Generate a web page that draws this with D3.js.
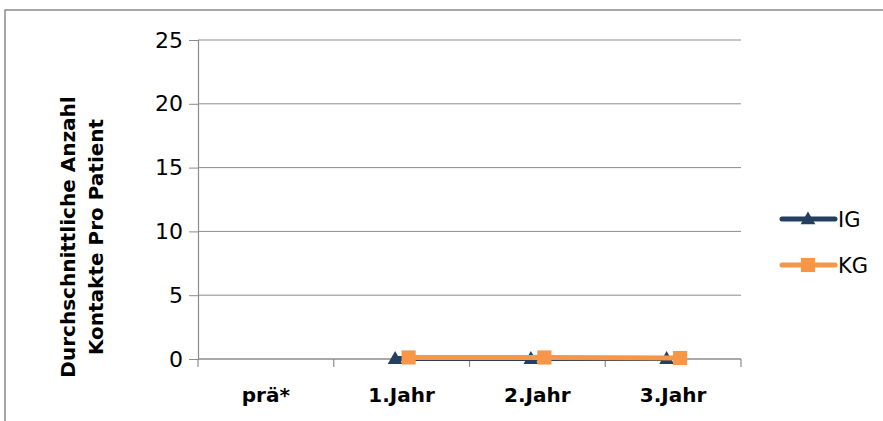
<!DOCTYPE html>
<html>
<head>
<meta charset="utf-8">
<script src="https://cdn.jsdelivr.net/npm/d3@7"></script>
<style>
  html, body { margin: 0; padding: 0; background: #fff; }
  svg { display: block; }
  text { font-family: "DejaVu Sans", sans-serif; }
</style>
</head>
<body>
<svg id="chart" width="883" height="421"></svg>
<script>
// Categories and series
const categories = ["prä*", "1.Jahr", "2.Jahr", "3.Jahr"];
const seriesNames = ["IG", "KG"];
const igValues = [null, 0.03, 0.03, 0.03];
const kgValues = [null, 0.12, 0.12, 0.08];
const yTicks = [0, 5, 10, 15, 20, 25];
const yTitle = ["Durchschnittliche Anzahl", "Kontakte Pro Patient"];

const colors = { IG: "#243f60", KG: "#f79646" };

const svg = d3.select("#chart");
const W = 883, H = 421;

// chart area frame
svg.append("path")
  .attr("d", `M5,${H} V10 H${W}`)
  .attr("fill", "none")
  .attr("stroke", "#8a8a8a")
  .attr("stroke-width", 1.5);

const plot = { left: 198, right: 741, top: 40, bottom: 359 };

const x = d3.scaleBand().domain(categories).range([plot.left, plot.right]);
const y = d3.scaleLinear().domain([0, 25]).range([plot.bottom, plot.top]);
// small side-by-side offset of the two series within a category
const sx = d3.scalePoint().domain(seriesNames).range([-6.5, 7]);

// gridlines
svg.append("g").selectAll("line").data(yTicks.filter(d => d > 0)).join("line")
  .attr("x1", plot.left).attr("x2", plot.right)
  .attr("y1", d => y(d)).attr("y2", d => y(d))
  .attr("stroke", "#8c8c8c").attr("stroke-width", 1);

// y axis
const yAxis = d3.axisLeft(y).tickValues(yTicks).tickSize(9).tickPadding(6);
const gy = svg.append("g").attr("transform", `translate(${plot.left},0)`).call(yAxis);
gy.attr("font-family", null).attr("font-size", null);
gy.select(".domain").attr("stroke", "#8c8c8c").attr("stroke-width", 1.2);
gy.selectAll(".tick line").attr("stroke", "#8c8c8c");
gy.selectAll(".tick text").attr("font-size", 22).attr("fill", "#000");

// x axis
const boundaries = categories.map(c => x(c)).concat([plot.right]);
svg.append("g").selectAll("line").data(boundaries).join("line")
  .attr("x1", d => d).attr("x2", d => d)
  .attr("y1", plot.bottom).attr("y2", plot.bottom + 8)
  .attr("stroke", "#8c8c8c").attr("stroke-width", 1.2);
svg.append("line")
  .attr("x1", plot.left).attr("x2", plot.right)
  .attr("y1", plot.bottom).attr("y2", plot.bottom)
  .attr("stroke", "#8c8c8c").attr("stroke-width", 1.5);
svg.append("g").selectAll("text").data(categories).join("text")
  .attr("x", d => x(d) + x.bandwidth() / 2)
  .attr("y", 402)
  .attr("text-anchor", "middle")
  .attr("font-size", 20).attr("font-weight", "bold")
  .text(d => d);

// y title
const yt = svg.append("text")
  .attr("transform", `translate(75,237) rotate(-90)`)
  .attr("text-anchor", "middle")
  .attr("font-size", 20).attr("font-weight", "bold");
yt.selectAll("tspan").data(yTitle).join("tspan")
  .attr("x", 0).attr("dy", (d, i) => i === 0 ? 0 : 28)
  .text(d => d);

// series
const series = [
  { name: "IG", values: igValues },
  { name: "KG", values: kgValues }
];
const cx = (i, s) => x(categories[i]) + x.bandwidth() / 2 + sx(s);

const line = d3.line()
  .defined(d => d.v != null)
  .x(d => cx(d.i, d.s))
  .y(d => y(d.v));

const triangle = d3.symbol().type(d3.symbolTriangle).size(95);
const square = d3.symbol().type(d3.symbolSquare).size(200);

series.forEach(s => {
  const pts = s.values.map((v, i) => ({ v, i, s: s.name }));
  svg.append("path").datum(pts)
    .attr("d", line)
    .attr("fill", "none")
    .attr("stroke", colors[s.name])
    .attr("stroke-width", 5)
    .attr("stroke-linecap", "round");
  svg.append("g").selectAll("path").data(pts.filter(d => d.v != null)).join("path")
    .attr("transform", d => `translate(${cx(d.i, d.s)},${y(d.v) + (s.name === "IG" ? 1 : 0)})`)
    .attr("d", s.name === "IG" ? triangle : square)
    .attr("fill", colors[s.name]);
});

// legend
const legendY = d3.scalePoint().domain(seriesNames).range([219, 265]);
const lg = svg.append("g");
seriesNames.forEach(n => {
  const g = lg.append("g").attr("transform", `translate(0,${legendY(n)})`);
  g.append("line").attr("x1", 782).attr("x2", 835).attr("y1", 0).attr("y2", 0)
    .attr("stroke", colors[n]).attr("stroke-width", 5).attr("stroke-linecap", "round");
  g.append("path").attr("transform", `translate(808,${n === "IG" ? 1 : 0})`)
    .attr("d", n === "IG" ? triangle : square).attr("fill", colors[n]);
  g.append("text").attr("x", 838).attr("y", 8)
    .attr("font-size", 21).text(n);
});
</script>
</body>
</html>
